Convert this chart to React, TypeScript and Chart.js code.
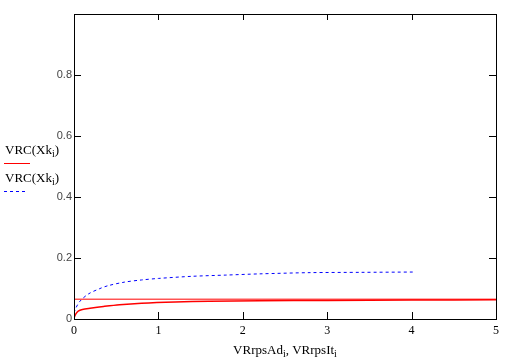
import { useEffect, useRef } from "react";
import { Chart, registerables } from "chart.js";
Chart.register(...registerables);

const redX = [0, 0.02, 0.05, 0.1, 0.19, 0.35, 0.54, 0.8, 1.2, 1.6, 2.2, 3, 4, 5];
const redY = [0.004, 0.016, 0.026, 0.031, 0.035, 0.041, 0.047, 0.052, 0.056, 0.058, 0.06, 0.061, 0.062, 0.063];
const flatX = [0, 5];
const flatY = [0.065, 0.065];
const blueX = [0, 0.02, 0.07, 0.17, 0.3, 0.4, 0.6, 0.8, 1.0, 1.4, 1.8, 2.2, 2.8, 3.4, 4.03];
const blueY = [0.02, 0.035, 0.058, 0.082, 0.099, 0.109, 0.121, 0.128, 0.133, 0.14, 0.144, 0.148, 0.152, 0.153, 0.154];
const xTicks = [0, 1, 2, 3, 4, 5];
const yTicks = [0, 0.2, 0.4, 0.6, 0.8];

const pts = (xs: number[], ys: number[]) => xs.map((x, i) => ({ x, y: ys[i] }));

type Seg = { t: string; sub?: boolean };
function drawRich(ctx: CanvasRenderingContext2D, segs: Seg[], x: number, y: number, size: number, align: "left" | "center") {
  const main = `${size}px "Liberation Serif"`;
  const small = `${Math.round(size * 0.75)}px "Liberation Serif"`;
  let w = 0;
  segs.forEach((s) => { ctx.font = s.sub ? small : main; w += ctx.measureText(s.t).width; });
  let cx = align === "center" ? x - w / 2 : x;
  ctx.textAlign = "left";
  ctx.textBaseline = "alphabetic";
  ctx.fillStyle = "#000";
  segs.forEach((s) => {
    ctx.font = s.sub ? small : main;
    ctx.fillText(s.t, cx, s.sub ? y + 3 : y);
    cx += ctx.measureText(s.t).width;
  });
}

const decor = {
  id: "decor",
  afterDraw(chart: any) {
    const { ctx, chartArea: a, scales } = chart;
    ctx.save();
    ctx.strokeStyle = "#000";
    ctx.lineWidth = 1;
    ctx.strokeRect(Math.round(a.left) + 0.5, Math.round(a.top) + 0.5, Math.round(a.right - a.left), Math.round(a.bottom - a.top));
    ctx.beginPath();
    xTicks.forEach((v) => {
      const px = Math.round(scales.x.getPixelForValue(v)) + 0.5;
      ctx.moveTo(px, a.bottom); ctx.lineTo(px, a.bottom - 7);
      ctx.moveTo(px, a.top); ctx.lineTo(px, a.top + 6);
    });
    yTicks.forEach((v) => {
      const py = Math.round(scales.y.getPixelForValue(v)) + 0.5;
      ctx.moveTo(a.left, py); ctx.lineTo(a.left + 7, py);
      ctx.moveTo(a.right, py); ctx.lineTo(a.right - 7, py);
    });
    ctx.stroke();
    drawRich(ctx, [{ t: "VRrpsAd" }, { t: "i", sub: true }, { t: ", VRrpsIt" }, { t: "i", sub: true }], (a.left + a.right) / 2, 354, 13, "center");
    drawRich(ctx, [{ t: "VRC(Xk" }, { t: "i", sub: true }, { t: ")" }], 5, 154, 13, "left");
    ctx.strokeStyle = "#ff0000";
    ctx.beginPath(); ctx.moveTo(4, 163.5); ctx.lineTo(30, 163.5); ctx.stroke();
    drawRich(ctx, [{ t: "VRC(Xk" }, { t: "i", sub: true }, { t: ")" }], 5, 182, 13, "left");
    ctx.strokeStyle = "#0000ff";
    ctx.setLineDash([3, 3]);
    ctx.beginPath(); ctx.moveTo(4, 191.5); ctx.lineTo(26, 191.5); ctx.stroke();
    ctx.restore();
  },
};

export default function App() {
  const ref = useRef<HTMLCanvasElement>(null);
  useEffect(() => {
    document.body.style.margin = "0";
    const chart = new Chart(ref.current!, {
      type: "scatter",
      data: {
        datasets: [
          { data: pts(flatX, flatY), showLine: true, borderColor: "#ff0000", borderWidth: 1, pointRadius: 0 },
          { data: pts(redX, redY), showLine: true, borderColor: "#ff0000", borderWidth: 1.5, pointRadius: 0, tension: 0.3 },
          { data: pts(blueX, blueY), showLine: true, borderColor: "#0000ff", borderWidth: 1, borderDash: [3, 3], pointRadius: 0, tension: 0.3 },
        ],
      },
      options: {
        animation: false,
        responsive: false,
        layout: { padding: { top: 14, right: 12, left: 0, bottom: 0 } },
        plugins: { legend: { display: false }, tooltip: { enabled: false } },
        scales: {
          x: {
            type: "linear", min: 0, max: 5,
            afterBuildTicks: (s: any) => { s.ticks = xTicks.map((v) => ({ value: v })); },
            afterFit: (s: any) => { s.height = 41; },
            grid: { display: false, drawTicks: false },
            border: { display: false },
            ticks: { padding: 5, color: "#000", font: { family: "Liberation Serif", size: 12 }, maxRotation: 0 },
          },
          y: {
            type: "linear", min: 0, max: 1,
            afterBuildTicks: (s: any) => { s.ticks = yTicks.map((v) => ({ value: v })); },
            afterFit: (s: any) => { s.width = 74; },
            grid: { display: false, drawTicks: false },
            border: { display: false },
            ticks: { padding: 2, color: "#444", font: { family: "Liberation Sans", size: 11 }, callback: (v: any) => String(v) },
          },
        },
      },
      plugins: [decor],
    });
    return () => chart.destroy();
  }, []);
  return <canvas ref={ref} width={508} height={360} style={{ display: "block" }} />;
}
